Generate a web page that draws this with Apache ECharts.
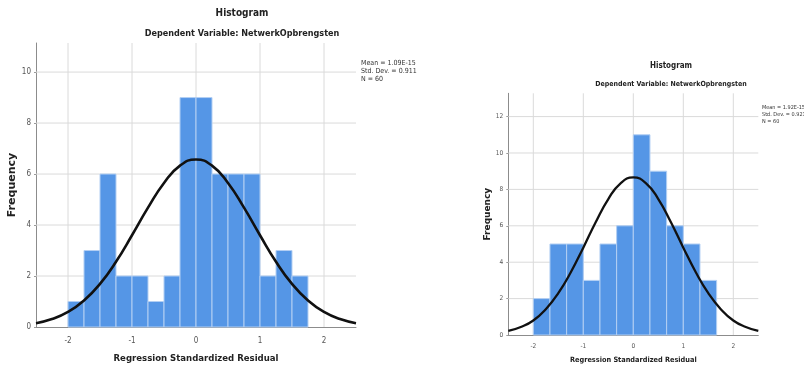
<!DOCTYPE html>
<html>
<head>
<meta charset="utf-8">
<script src="https://cdn.jsdelivr.net/npm/echarts@6/dist/echarts.min.js"></script>
<style>html,body{margin:0;padding:0;background:#fff}#c{width:804px;height:369px}</style>
</head>
<body>
<div id="c"></div>
<script>
// ---- Data ----
const leftBinStarts = [-2, -1.75, -1.5, -1.25, -1, -0.75, -0.5, -0.25, 0, 0.25, 0.5, 0.75, 1, 1.25, 1.5];
const leftBinWidth = 0.25;
const leftCounts = [1, 3, 6, 2, 2, 1, 2, 9, 9, 6, 6, 6, 2, 3, 2];
const leftCurveX = [-2.5, -2.25, -2, -1.75, -1.5, -1.25, -1, -0.75, -0.5, -0.25, 0, 0.25, 0.5, 0.75, 1, 1.25, 1.5, 1.75, 2, 2.25, 2.5];
const leftCurveY = [0.15, 0.31, 0.59, 1.04, 1.69, 2.56, 3.6, 4.68, 5.65, 6.33, 6.57, 6.33, 5.65, 4.68, 3.6, 2.56, 1.69, 1.04, 0.59, 0.31, 0.15];
const leftYTicks = [0, 2, 4, 6, 8, 10];
const leftStats = ['Mean = 1.09E-15', 'Std. Dev. = 0.911', 'N = 60'];

const rightBinStarts = [-2, -5/3, -4/3, -1, -2/3, -1/3, 0, 1/3, 2/3, 1, 4/3];
const rightBinWidth = 1/3;
const rightCounts = [2, 5, 5, 3, 5, 6, 11, 9, 6, 5, 3];
const rightCurveX = [-2.5, -2.25, -2, -1.75, -1.5, -1.25, -1, -0.75, -0.5, -0.25, 0, 0.25, 0.5, 0.75, 1, 1.25, 1.5, 1.75, 2, 2.25, 2.5];
const rightCurveY = [0.22, 0.44, 0.8, 1.42, 2.3, 3.45, 4.8, 6.21, 7.47, 8.35, 8.66, 8.35, 7.47, 6.21, 4.8, 3.45, 2.3, 1.42, 0.8, 0.44, 0.22];
const rightYTicks = [0, 2, 4, 6, 8, 10, 12];
const rightStats = ['Mean = 1.92E-15', 'Std. Dev. = 0.921', 'N = 60'];

const xTicks = [-2, -1, 0, 1, 2];
const titleMain = 'Histogram';
const titleSub = 'Dependent Variable: NetwerkOpbrengsten';
const xName = 'Regression Standardized Residual';
const yName = 'Frequency';

// ---- Chart ----
const FONT = '"Liberation Sans Narrow", "DejaVu Sans Condensed", sans-serif';
const BAR = '#5596e6';
const GRIDC = '#dadada';

function barData(starts, w, counts) {
  return starts.map((s, i) => [s, s + w, counts[i]]);
}
function renderBar(params, api) {
  const p0 = api.coord([api.value(0), 0]);
  const p1 = api.coord([api.value(1), api.value(2)]);
  return {
    type: 'rect',
    shape: { x: p0[0], y: p1[1], width: p1[0] - p0[0], height: p0[1] - p1[1] },
    style: { fill: BAR, stroke: '#b3cff3', lineWidth: 1 }
  };
}
// grid lines: [kind, value] where kind 0 = vertical (x value), 1 = horizontal (y value)
function gridData(yTicks) {
  const d = [];
  xTicks.forEach(v => d.push([0, v]));
  yTicks.filter(v => v > 0).forEach(v => d.push([1, v]));
  return d;
}
function renderGrid(params, api) {
  const cs = params.coordSys;
  const kind = api.value(0), v = api.value(1);
  let shape;
  if (kind === 0) {
    const p = api.coord([v, 0]);
    shape = { x1: p[0], y1: cs.y, x2: p[0], y2: cs.y + cs.height };
  } else {
    const p = api.coord([0, v]);
    shape = { x1: cs.x, y1: p[1], x2: cs.x + cs.width, y2: p[1] };
  }
  return { type: 'line', shape: shape, style: { stroke: GRIDC, lineWidth: 1 } };
}

const chart = echarts.init(document.getElementById('c'), null, { renderer: 'canvas' });

function xAxisCfg(idx, fs, nameFs, gap, margin) {
  return {
    gridIndex: idx, type: 'value', min: -2.5, max: 2.5, interval: 0.5,
    splitLine: { show: false },
    axisLine: { onZero: false, lineStyle: { color: '#8c8c8c', width: 1 } },
    axisTick: { show: false },
    axisLabel: {
      fontSize: fs, color: '#555', fontFamily: FONT, margin: margin,
      formatter: v => (xTicks.indexOf(Math.round(v * 100) / 100) >= 0 ? String(Math.round(v)) : '')
    },
    name: xName, nameLocation: 'middle', nameGap: gap,
    nameTextStyle: { fontSize: nameFs, fontWeight: 'bold', color: '#222', fontFamily: FONT }
  };
}
function yAxisCfg(idx, max, fs, nameFs, gap) {
  return {
    gridIndex: idx, type: 'value', min: 0, max: max, interval: 2,
    splitLine: { show: false },
    axisLine: { show: true, onZero: false, lineStyle: { color: '#8c8c8c', width: 1 } },
    axisTick: { show: true, length: 2, lineStyle: { color: '#9a9a9a' } },
    axisLabel: { fontSize: fs, color: '#555', fontFamily: FONT, margin: 5, showMaxLabel: false },
    name: yName, nameLocation: 'middle', nameGap: gap, nameRotate: 90,
    nameTextStyle: { fontSize: nameFs, fontWeight: 'bold', color: '#222', fontFamily: '"DejaVu Sans", sans-serif' }
  };
}

const option = {
  animation: false,
  backgroundColor: '#fff',
  title: [
    { text: titleMain, left: 237, top: 3, textAlign: 'center', textStyle: { fontSize: 10, fontWeight: 'bold', color: '#222', fontFamily: FONT } },
    { text: titleSub, left: 237, top: 24, textAlign: 'center', textStyle: { fontSize: 9, fontWeight: 'bold', color: '#222', fontFamily: FONT } },
    { text: leftStats.join('\n'), left: 356, top: 54, textStyle: { fontSize: 7, lineHeight: 8, fontWeight: 'normal', color: '#333', fontFamily: FONT } },
    { text: titleMain, left: 666, top: 57, textAlign: 'center', textStyle: { fontSize: 8, fontWeight: 'bold', color: '#222', fontFamily: FONT } },
    { text: titleSub, left: 666, top: 76, textAlign: 'center', textStyle: { fontSize: 7, fontWeight: 'bold', color: '#222', fontFamily: FONT } },
    { text: rightStats.join('\n'), left: 757, top: 99.5, textStyle: { fontSize: 5.5, lineHeight: 7, fontWeight: 'normal', color: '#333', fontFamily: FONT } }
  ],
  grid: [
    { left: 36, top: 43, width: 320, height: 285.3, containLabel: false },
    { left: 508.3, top: 93.3, width: 250, height: 242.4, containLabel: false }
  ],
  xAxis: [xAxisCfg(0, 8, 9.5, 27, 10), xAxisCfg(1, 6.5, 7.3, 22, 8)],
  yAxis: [yAxisCfg(0, 11.14, 8, 11, 17.5), yAxisCfg(1, 13.28, 6.5, 9, 14)],
  series: [
    { type: 'custom', xAxisIndex: 0, yAxisIndex: 0, z: 1, silent: true, renderItem: renderGrid, data: gridData(leftYTicks) },
    { type: 'custom', xAxisIndex: 0, yAxisIndex: 0, z: 2, renderItem: renderBar, data: barData(leftBinStarts, leftBinWidth, leftCounts) },
    { type: 'line', xAxisIndex: 0, yAxisIndex: 0, z: 3, smooth: true, showSymbol: false, symbol: 'none',
      lineStyle: { color: '#111', width: 2.6 }, data: leftCurveX.map((x, i) => [x, leftCurveY[i]]) },

    { type: 'custom', xAxisIndex: 1, yAxisIndex: 1, z: 1, silent: true, renderItem: renderGrid, data: gridData(rightYTicks) },
    { type: 'custom', xAxisIndex: 1, yAxisIndex: 1, z: 2, renderItem: renderBar, data: barData(rightBinStarts, rightBinWidth, rightCounts) },
    { type: 'line', xAxisIndex: 1, yAxisIndex: 1, z: 3, smooth: true, showSymbol: false, symbol: 'none',
      lineStyle: { color: '#111', width: 2.3 }, data: rightCurveX.map((x, i) => [x, rightCurveY[i]]) }
  ]
};
chart.setOption(option);
</script>
</body>
</html>
